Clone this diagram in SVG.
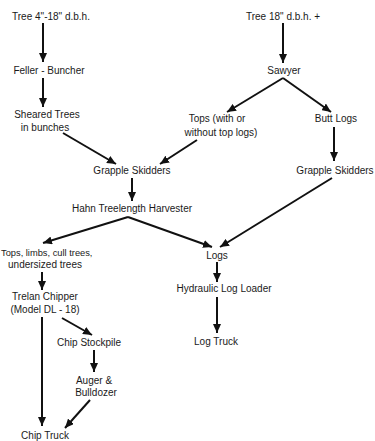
<svg xmlns="http://www.w3.org/2000/svg" width="375" height="441" viewBox="0 0 375 441">
<style>
text{font-family:"Liberation Sans",Arial,sans-serif;font-size:10px;fill:#1a1a1a;text-anchor:middle}
.c line{stroke:#111;stroke-width:2;marker-end:url(#ah)}
</style>
<defs>
<marker id="ah" markerUnits="userSpaceOnUse" markerWidth="10" markerHeight="8" refX="9" refY="4" orient="auto">
<path d="M0,0 L9,4 L0,8 Z" fill="#111"/>
</marker>
</defs>
<rect width="375" height="441" fill="#fff"/>
<g class="c" id="connectors">
<line x1="43" y1="23" x2="43" y2="62"/>
<line x1="43" y1="78" x2="43" y2="107"/>
<line x1="63" y1="133" x2="116" y2="164"/>
<line x1="197" y1="140" x2="160" y2="164"/>
<line x1="283" y1="23" x2="283" y2="63"/>
<line x1="283" y1="78" x2="227" y2="112"/>
<line x1="283" y1="78" x2="331" y2="112"/>
<line x1="334" y1="127" x2="334" y2="161"/>
<line x1="132" y1="178" x2="132" y2="201"/>
<line x1="128" y1="217" x2="43" y2="243"/>
<line x1="128" y1="217" x2="212" y2="247"/>
<line x1="332" y1="178" x2="220" y2="247"/>
<line x1="42" y1="272" x2="42" y2="290"/>
<line x1="217" y1="262" x2="217" y2="282"/>
<line x1="42" y1="317" x2="42" y2="426"/>
<line x1="62" y1="318" x2="92" y2="335"/>
<line x1="94" y1="350" x2="94" y2="372"/>
<line x1="90" y1="400" x2="65" y2="428"/>
<line x1="217" y1="297" x2="217" y2="333"/>
</g>
<g id="tree4"><text x="51" y="19.5">Tree 4"-18" d.b.h.</text></g>
<g id="tree18"><text x="283" y="19.5">Tree 18" d.b.h. +</text></g>
<g id="feller"><text x="49" y="73.5">Feller - Buncher</text></g>
<g id="sheared"><text x="47" y="117.5">Sheared Trees</text><text x="45" y="130.5">in bunches</text></g>
<g id="sawyer"><text x="284" y="73.5">Sawyer</text></g>
<g id="tops"><text x="217" y="121.5">Tops (with or</text><text x="221" y="135.5">without top logs)</text></g>
<g id="buttlogs"><text x="336" y="121.5">Butt Logs</text></g>
<g id="grapple1"><text x="132" y="174">Grapple Skidders</text></g>
<g id="grapple2"><text x="335" y="173.5">Grapple Skidders</text></g>
<g id="hahn"><text x="132" y="211.5">Hahn Treelength Harvester</text></g>
<g id="residue"><text x="1" y="255.5" style="text-anchor:start;font-size:9.3px">Tops, limbs, cull trees,</text><text x="45" y="267.5">undersized trees</text></g>
<g id="logs"><text x="217" y="258.5">Logs</text></g>
<g id="loader"><text x="224" y="292">Hydraulic Log Loader</text></g>
<g id="logtruck"><text x="216" y="344.5">Log Truck</text></g>
<g id="chipper"><text x="45" y="299.5">Trelan Chipper</text><text x="45" y="312.5">(Model DL - 18)</text></g>
<g id="stockpile"><text x="89" y="345.5">Chip Stockpile</text></g>
<g id="auger"><text x="94" y="383.5">Auger &amp;</text><text x="96" y="395.5">Bulldozer</text></g>
<g id="chiptruck"><text x="45" y="438.5">Chip Truck</text></g>
</svg>
